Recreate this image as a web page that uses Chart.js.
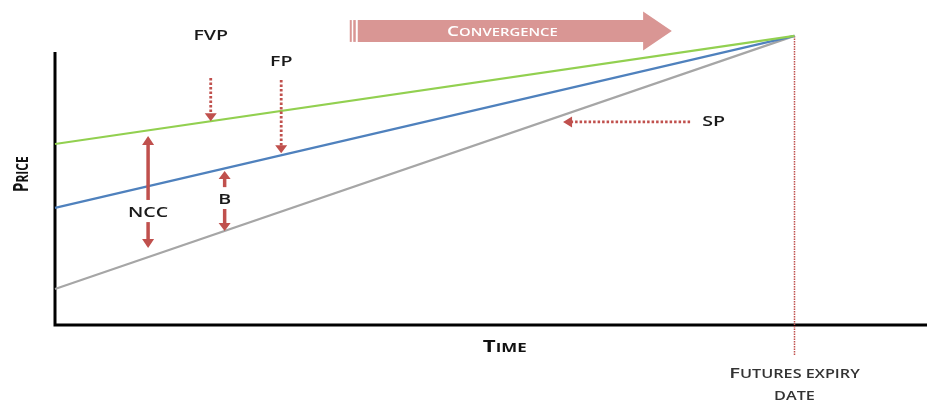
<!DOCTYPE html>
<html>
<head>
<meta charset="utf-8">
<script src="https://cdn.jsdelivr.net/npm/chart.js@4.4.1/dist/chart.umd.min.js"></script>
<style>
    html, body { margin: 0; padding: 0; background: #fff; }
    #wrap { width: 927px; height: 402px; }
</style>
</head>
<body>
<div id="wrap"><canvas id="myChart" width="927" height="402"></canvas></div>
<script>
// Time axis: start of the period and the futures expiry date
const times = [0, 85];
// Price lines (start value, value at expiry)
const fvpValues = [66.3, 105.9];
const fpValues = [42.9, 105.9];
const spValues = [13.2, 105.9];
const seriesNames = ['FVP', 'FP', 'SP'];
const seriesColours = ['#92d050', '#4f81bd', '#a6a6a6'];

const red = '#c0504d';
const textStretch = 1.35; // the reference text is a bit wide

function lineAt(values, t) {
    return values[0] + (values[1] - values[0]) * (t - times[0]) / (times[1] - times[0]);
}

function arrowHead(ctx, x1, y1, x2, y2, len, half) {
    const a = Math.atan2(y2 - y1, x2 - x1);
    ctx.beginPath();
    ctx.moveTo(x2, y2);
    ctx.lineTo(x2 - len * Math.cos(a) + half * Math.sin(a), y2 - len * Math.sin(a) - half * Math.cos(a));
    ctx.lineTo(x2 - len * Math.cos(a) - half * Math.sin(a), y2 - len * Math.sin(a) + half * Math.cos(a));
    ctx.closePath();
    ctx.fill();
}

// draws an arrow from (x1,y1) to the tip (x2,y2)
function arrow(ctx, x1, y1, x2, y2, dotted, width, len, half) {
    const a = Math.atan2(y2 - y1, x2 - x1);
    ctx.save();
    ctx.strokeStyle = red;
    ctx.fillStyle = red;
    ctx.lineWidth = width;
    if (dotted) {
        ctx.setLineDash([2.5, 2]);
    }
    ctx.beginPath();
    ctx.moveTo(x1, y1);
    ctx.lineTo(x2 - (len - 1) * Math.cos(a), y2 - (len - 1) * Math.sin(a));
    ctx.stroke();
    ctx.setLineDash([]);
    arrowHead(ctx, x1, y1, x2, y2, len, half);
    ctx.restore();
}

function drawText(ctx, text, x, y, font, colour, align) {
    ctx.save();
    ctx.translate(x, y);
    ctx.scale(textStretch, 1);
    ctx.font = font;
    ctx.fillStyle = colour;
    ctx.textAlign = align || 'center';
    ctx.textBaseline = 'middle';
    ctx.fillText(text, 0, 0);
    ctx.restore();
}

// Small caps: capitals at the big size, lower case letters as smaller capitals
function smallCapsParts(text, big, small, weight, family) {
    const parts = [];
    for (const ch of text) {
        const isUpper = ch !== ch.toLowerCase();
        parts.push({ ch: ch.toUpperCase(), font: weight + ' ' + (isUpper ? big : small) + 'px ' + family });
    }
    return parts;
}

function drawSmallCaps(ctx, text, x, y, big, small, weight, colour, rotate) {
    const family = '"Open Sans", sans-serif';
    const parts = smallCapsParts(text, big, small, weight, family);
    ctx.save();
    ctx.translate(x, y);
    if (rotate) {
        ctx.rotate(-Math.PI / 2);
        ctx.scale(1, textStretch);
    } else {
        ctx.scale(textStretch, 1);
    }
    let total = 0;
    parts.forEach(p => { ctx.font = p.font; p.w = ctx.measureText(p.ch).width; total += p.w; });
    let cx = -total / 2;
    ctx.fillStyle = colour;
    ctx.textBaseline = 'alphabetic';
    ctx.textAlign = 'left';
    const base = big * 0.36;
    parts.forEach(p => { ctx.font = p.font; ctx.fillText(p.ch, cx, base); cx += p.w; });
    ctx.restore();
}

const diagramPlugin = {
    id: 'diagram',
    beforeDatasetsDraw(chart) {
        const ctx = chart.ctx;
        const xs = chart.scales.x;
        const ys = chart.scales.y;
        const area = chart.chartArea;

        // axes
        ctx.save();
        ctx.strokeStyle = '#000';
        ctx.lineWidth = 3;
        ctx.beginPath();
        ctx.moveTo(area.left, area.top);
        ctx.lineTo(area.left, area.bottom);
        ctx.lineTo(chart.width, area.bottom);
        ctx.stroke();
        ctx.restore();

        // expiry date marker
        const ex = xs.getPixelForValue(times[1]);
        ctx.save();
        ctx.strokeStyle = red;
        ctx.lineWidth = 1.5;
        ctx.setLineDash([1.5, 1]);
        ctx.beginPath();
        ctx.moveTo(ex, ys.getPixelForValue(fpValues[1]));
        ctx.lineTo(ex, area.bottom + 30);
        ctx.stroke();
        ctx.restore();
    },
    afterDatasetsDraw(chart) {
        const ctx = chart.ctx;
        const xs = chart.scales.x;
        const ys = chart.scales.y;
        const area = chart.chartArea;
        const X = v => xs.getPixelForValue(v);
        const Y = v => ys.getPixelForValue(v);
        const labelFont = '600 14.5px "Open Sans", sans-serif';
        const labelColour = '#1a1a1a';

        // FVP
        let t = 17.9;
        drawText(ctx, 'FVP', X(t), Y(106), labelFont, labelColour);
        arrow(ctx, X(t), Y(90.5), X(t), Y(lineAt(fvpValues, t)), true, 2.8, 8, 6);

        // FP
        t = 26;
        drawText(ctx, 'FP', X(t), Y(96.3), labelFont, labelColour);
        arrow(ctx, X(t), Y(89.7), X(t), Y(lineAt(fpValues, t)) - 2, true, 2.8, 8, 6);

        // NCC
        t = 10.7;
        drawText(ctx, 'NCC', X(t), Y(41.0), labelFont, labelColour);
        arrow(ctx, X(t), Y(45.8), X(t), Y(69.2), false, 3.5, 9, 6);
        arrow(ctx, X(t), Y(37.7), X(t), Y(28.2), false, 3.5, 9, 6);

        // B
        t = 19.5;
        drawText(ctx, 'B', X(t), Y(45.8), labelFont, labelColour);
        arrow(ctx, X(t), Y(50.5), X(t), Y(56.4), false, 3.5, 8, 6);
        arrow(ctx, X(t), Y(42.5), X(t), Y(lineAt(spValues, t)), false, 3.5, 8, 6);

        // SP
        drawText(ctx, 'SP', X(74.4), Y(74.4), labelFont, labelColour, 'left');
        arrow(ctx, X(73), Y(74.4), X(58.4), Y(74.4), true, 2.8, 9, 5.5);

        // convergence arrow
        const pink = '#d99694';
        ctx.save();
        ctx.fillStyle = pink;
        const x0 = X(34.8), xh = X(67.6), xt = X(70.9);
        const yc = Y(107.7), bh = Y(103.7) - Y(111.7), hh = Y(100.7) - Y(115);
        ctx.beginPath();
        ctx.moveTo(x0, yc - bh / 2);
        ctx.lineTo(xh, yc - bh / 2);
        ctx.lineTo(xh, yc - hh / 2);
        ctx.lineTo(xt, yc);
        ctx.lineTo(xh, yc + hh / 2);
        ctx.lineTo(xh, yc + bh / 2);
        ctx.lineTo(x0, yc + bh / 2);
        ctx.closePath();
        ctx.fill();
        ctx.fillRect(x0 - 8, yc - bh / 2, 2, bh);
        ctx.fillRect(x0 - 4.5, yc - bh / 2, 2.5, bh);
        ctx.restore();
        drawSmallCaps(ctx, 'Convergence', (x0 + xh) / 2 + 2, yc, 14, 11, '600', '#fff');

        // axis titles
        drawSmallCaps(ctx, 'Time', X(51.7), area.bottom + 21, 16.5, 12.5, 'bold', '#111');
        drawSmallCaps(ctx, 'Price', 20, Y(55.2), 15.5, 12, 'bold', '#111', true);

        // expiry label
        const ex = X(times[1]);
        drawSmallCaps(ctx, 'Futures expiry', ex, area.bottom + 48, 15, 12, '600', '#333');
        drawSmallCaps(ctx, 'date', ex, area.bottom + 70, 15, 12, '600', '#333');
    }
};

const datasets = [fvpValues, fpValues, spValues].map((values, i) => ({
    label: seriesNames[i],
    data: times.map((t, j) => ({ x: t, y: values[j] })),
    borderColor: seriesColours[i],
    borderWidth: 2.2,
    pointRadius: 0,
    fill: false,
    clip: false,
    tension: 0
}));

const chart = new Chart(document.getElementById('myChart'), {
    type: 'line',
    data: { datasets: datasets },
    options: {
        responsive: false,
        animation: false,
        devicePixelRatio: 1,
        layout: {
            padding: { top: 52, left: 55, right: 2, bottom: 77 }
        },
        plugins: {
            legend: { display: false },
            tooltip: { enabled: false }
        },
        scales: {
            x: { type: 'linear', min: 0, max: 100, display: false },
            y: { type: 'linear', min: 0, max: 100, display: false }
        }
    },
    plugins: [diagramPlugin]
});
</script>
</body>
</html>
